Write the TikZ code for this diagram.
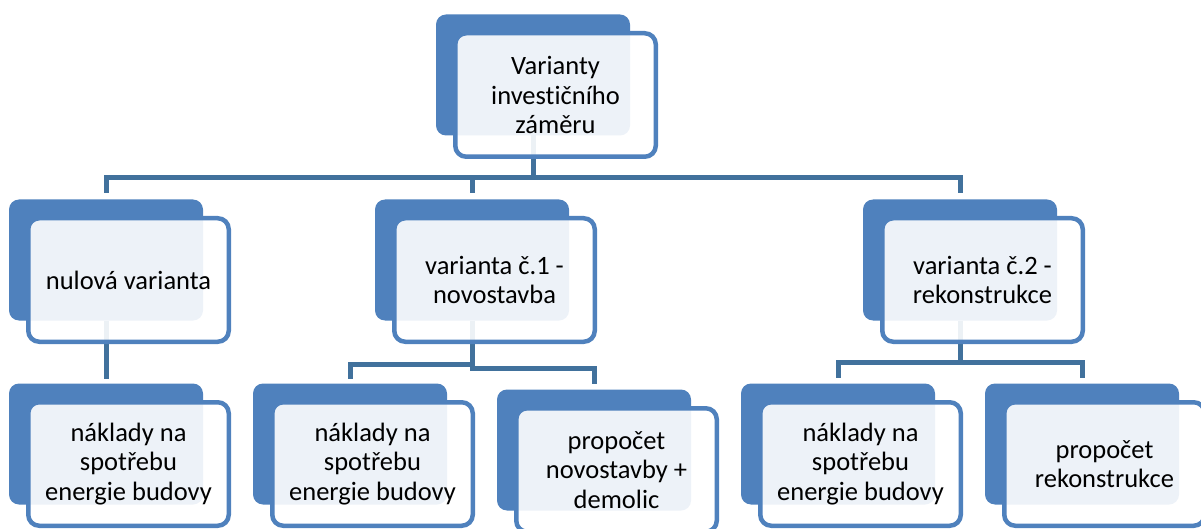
\documentclass[tikz,border=0pt]{standalone}
\usepackage{fontspec}
\setmainfont{Carlito}[Ligatures=NoCommon]
\usetikzlibrary{calc}
\definecolor{boxblue}{HTML}{4F81BD}
\definecolor{linkblue}{HTML}{41719C}
\pgfdeclarelayer{bg}
\pgfsetlayers{bg,main}
\tikzset{
  backbox/.style={fill=boxblue, rounded corners=10pt, minimum width=194pt, minimum height=121pt, inner sep=0pt, outer sep=0pt},
  frontbox/.style={draw=boxblue, line width=4.5pt, fill=white, fill opacity=0.9, text opacity=1, rounded corners=11pt,
    minimum width=200.5pt, minimum height=123.5pt, inner sep=0pt, outer sep=0pt, align=center,
    font=\fontsize{26.5}{29.5}\selectfont},
  conn/.style={draw=linkblue, line width=5pt},
}
\newcommand\boxpair[4]{%
  \node[backbox] (#1) at (#2,#3) {};
  \node[frontbox] (#1f) at ($(#1)+(22.5,20)$) {#4};
}
\begin{document}
\begin{tikzpicture}[x=1pt,y=-1pt]
\useasboundingbox (0,0) rectangle (1201,529);
\clip (0,0) rectangle (1201,529);
\boxpair{top}{533}{75}{Varianty\\investičního\\záměru}
\boxpair{nul}{106}{260}{nulová varianta}
\boxpair{vone}{472}{260}{varianta č.1 -\\novostavba}
\boxpair{vtwo}{960}{260}{varianta č.2 -\\rekonstrukce}
\boxpair{ca}{106}{444}{náklady na\\spotřebu\\energie budovy}
\boxpair{cb}{350}{444}{náklady na\\spotřebu\\energie budovy}
\boxpair{cc}{594}{450}{propočet\\novostavby +\\demolic}
\boxpair{cd}{838}{444}{náklady na\\spotřebu\\energie budovy}
\boxpair{ce}{1082}{444}{propočet\\rekonstrukce}
\begin{pgfonlayer}{bg}
  \draw[conn] (top.south) -- ++(0,42) coordinate (hub);
  \draw[conn, shorten >=6pt] (hub) -| (nul.north);
  \draw[conn, shorten >=6pt] (hub) -| (vone.north);
  \draw[conn, shorten >=6pt] (hub) -| (vtwo.north);
  \draw[conn, shorten >=5pt] (nul.south) -- (ca.north);
  \draw[conn, shorten >=5pt] (vone.south) -- ++(0,44) -| (cb.north);
  \draw[conn, shorten >=6pt] (vone.south) -- ++(0,48) -| (cc.north);
  \draw[conn, shorten >=6pt] (vtwo.south) -- ++(0,42) -| (cd.north);
  \draw[conn, shorten >=6pt] (vtwo.south) -- ++(0,42) -| (ce.north);
\end{pgfonlayer}
\end{tikzpicture}
\end{document}
